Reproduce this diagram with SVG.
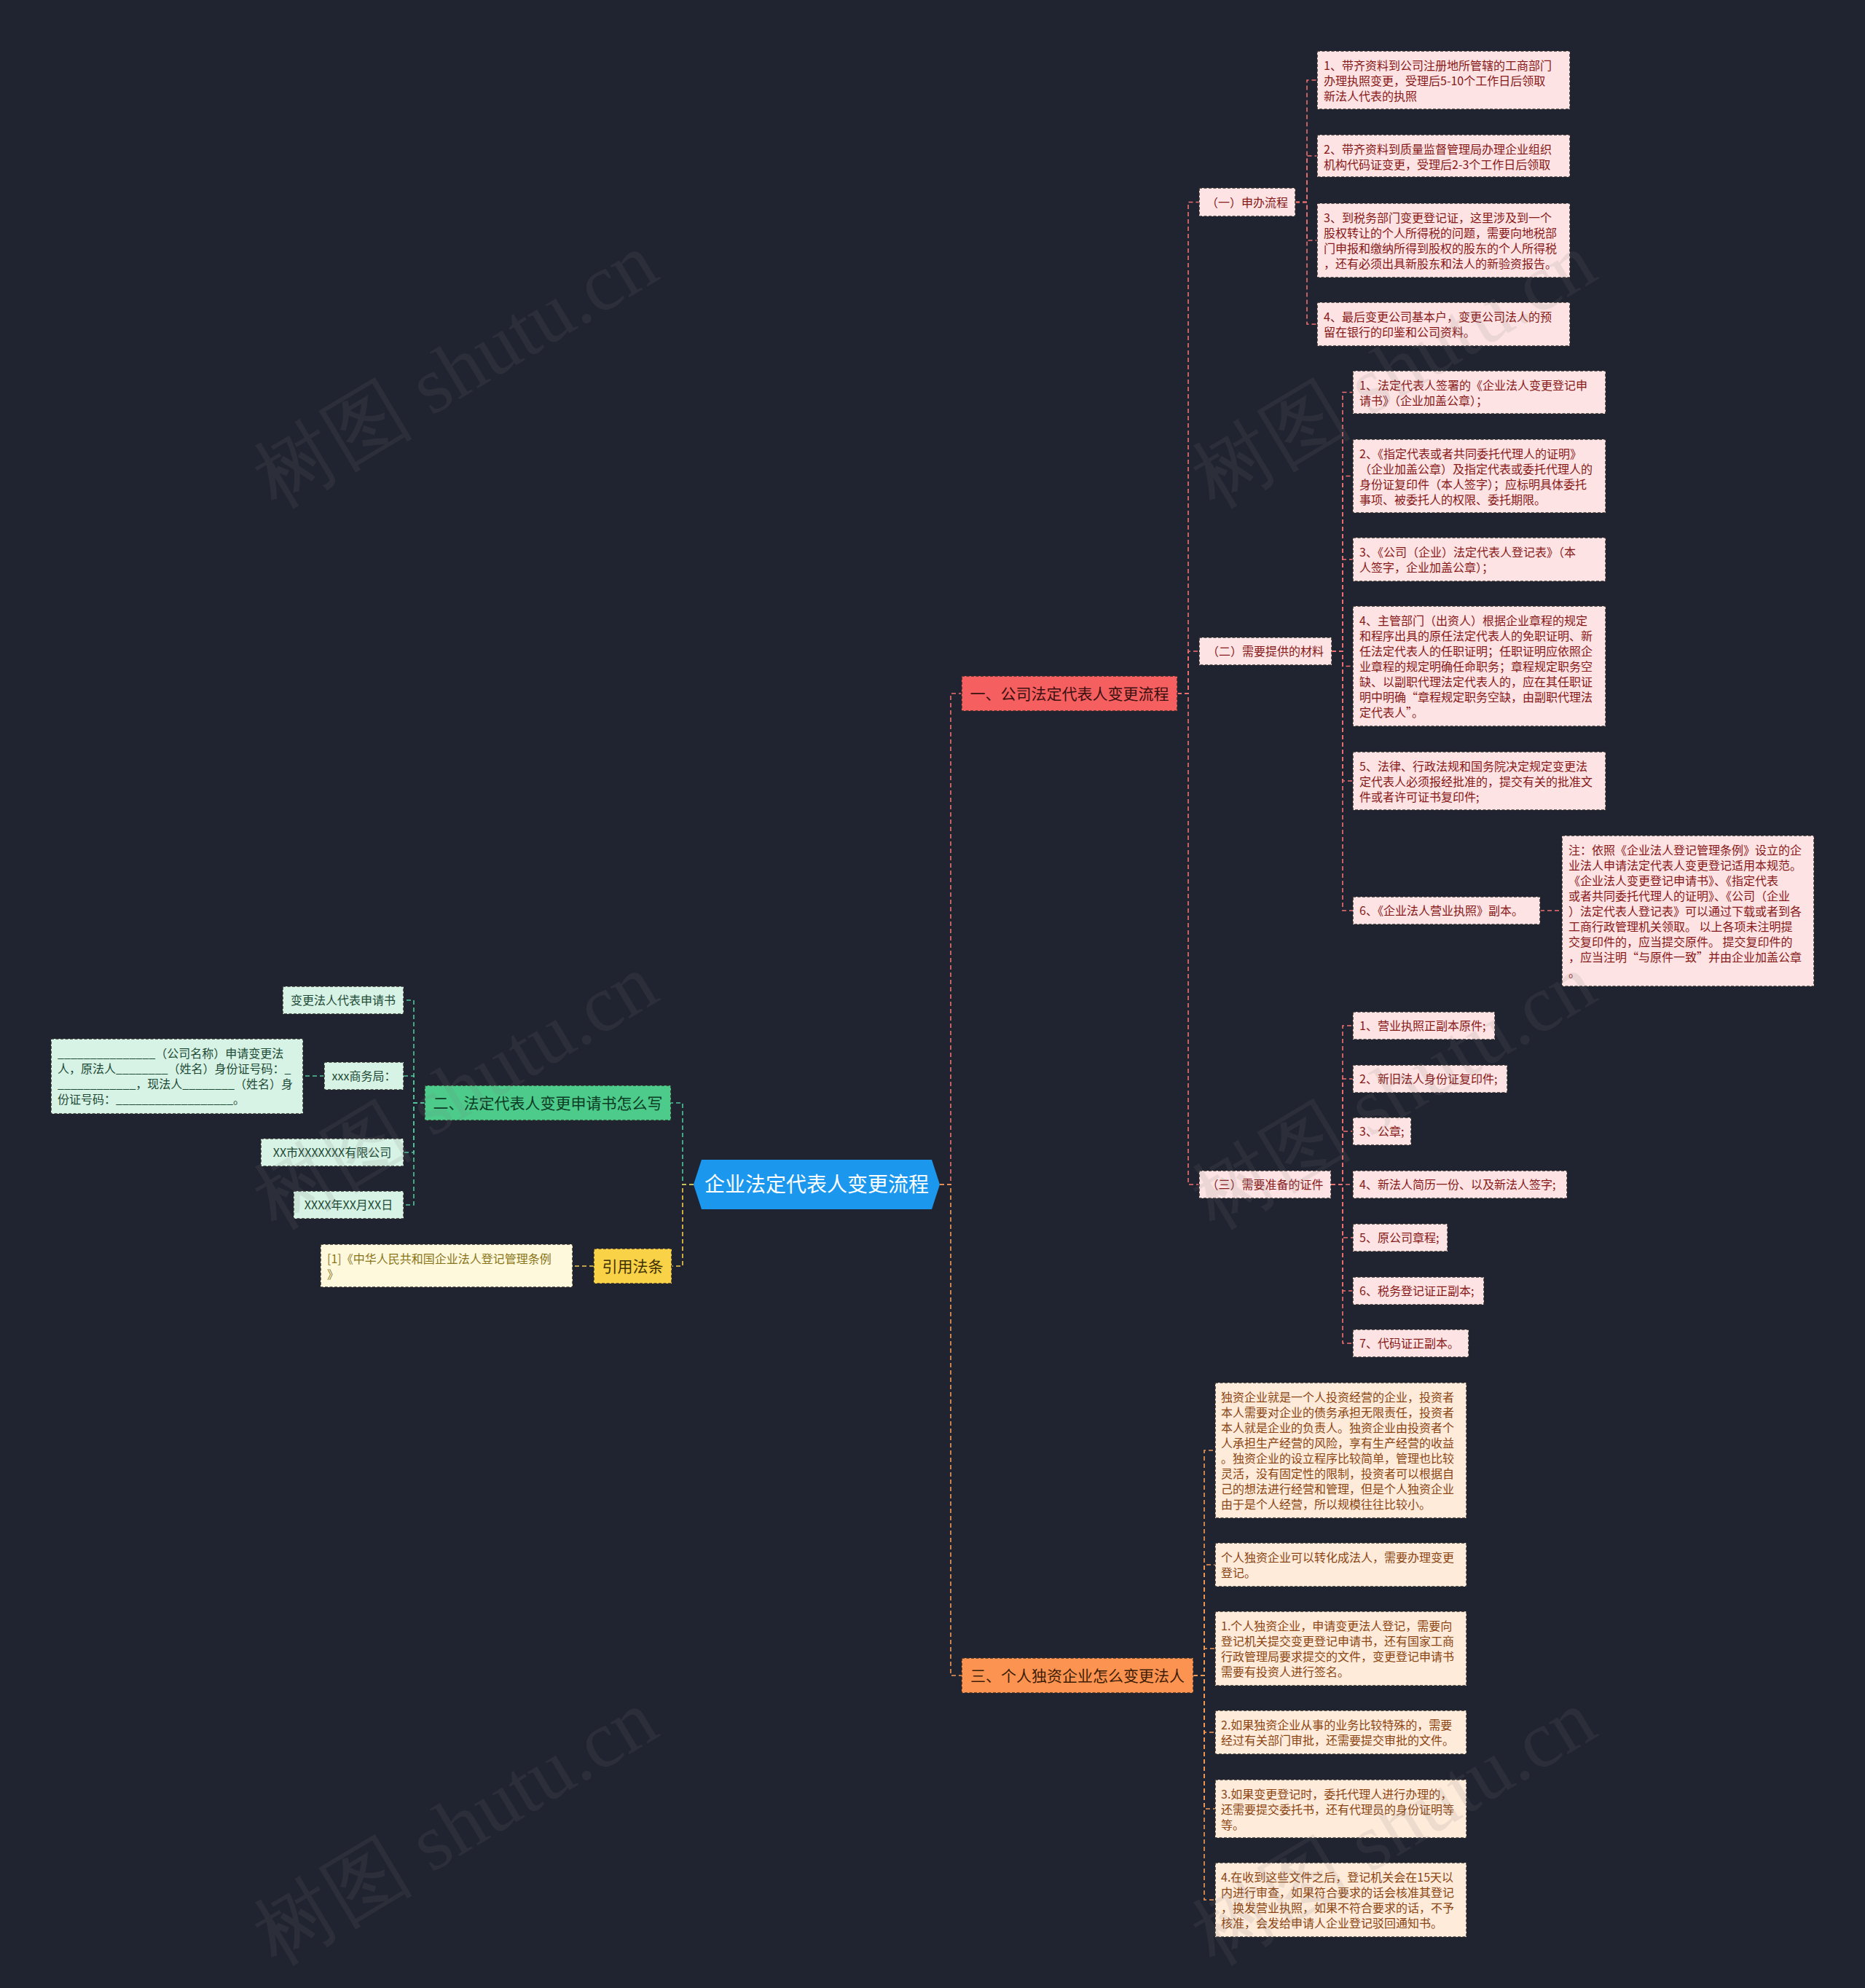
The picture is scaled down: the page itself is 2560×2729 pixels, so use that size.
<svg xmlns="http://www.w3.org/2000/svg" width="2560" height="2729" viewBox="0 0 2560 2729">
<style>
text{font-family:"Noto Sans CJK SC","Noto Sans",sans-serif;}
.b{stroke:#2b2b2b;stroke-width:1.5;stroke-dasharray:4 2.5;}
.r1{fill:#f65f5f;} .r2{fill:#fde3e3;} .rt{fill:#861818;font-size:16px;} .rt1{fill:#3b1010;font-size:21px;}
.g1{fill:#4ccb8b;} .g2{fill:#d7f3e5;} .gt{fill:#1d4a35;font-size:16px;} .gt1{fill:#0d3b24;font-size:21px;}
.y1{fill:#f9d247;} .y2{fill:#fef9dd;} .yt{fill:#8a7418;font-size:16px;} .yt1{fill:#3d3000;font-size:21px;}
.o1{fill:#fd9350;} .o2{fill:#feebda;} .ot{fill:#8b4513;font-size:16px;} .ot1{fill:#3d1d05;font-size:21px;}
.c{text-anchor:middle;}
.ln{fill:none;stroke-width:1.6;stroke-dasharray:6 4;}
.lr{stroke:#ee7070;} .lg{stroke:#4fc79a;} .ly{stroke:#f5cc4a;} .lo{stroke:#f59a56;}
.wm{font-family:"Liberation Serif",serif;font-size:110px;fill:#808080;opacity:0.13;text-anchor:middle;}
</style>
<rect width="2560" height="2729" fill="#202330"/>

<g id="connectors">
<path class="ln lr" d="M1290,1626H1305V952H1320"/>
<path class="ln lo" d="M1290,1626H1305V2300H1320"/>
<path class="ln lg" d="M952,1626H937V1514H921"/>
<path class="ln ly" d="M952,1626H937V1738H922"/>
<path class="ln lr" d="M1616,952H1631V277.5H1646"/>
<path class="ln lr" d="M1616,952H1631V894H1646"/>
<path class="ln lr" d="M1616,952H1631V1626H1646"/>
<path class="ln lr" d="M1778,277.5H1794V110H1808"/>
<path class="ln lr" d="M1778,277.5H1794V214H1808"/>
<path class="ln lr" d="M1778,277.5H1794V330H1808"/>
<path class="ln lr" d="M1778,277.5H1794V445H1808"/>
<path class="ln lr" d="M1828,894H1843V538.5H1857"/>
<path class="ln lr" d="M1828,894H1843V653.5H1857"/>
<path class="ln lr" d="M1828,894H1843V768H1857"/>
<path class="ln lr" d="M1828,894H1843V914.5H1857"/>
<path class="ln lr" d="M1828,894H1843V1072H1857"/>
<path class="ln lr" d="M1828,894H1843V1250H1857"/>
<path class="ln lr" d="M2114,1250H2144"/>
<path class="ln lr" d="M1827,1626H1843V1408H1857"/>
<path class="ln lr" d="M1827,1626H1843V1481H1857"/>
<path class="ln lr" d="M1827,1626H1843V1553H1857"/>
<path class="ln lr" d="M1827,1626H1857"/>
<path class="ln lr" d="M1827,1626H1843V1699H1857"/>
<path class="ln lr" d="M1827,1626H1843V1772H1857"/>
<path class="ln lr" d="M1827,1626H1843V1844H1857"/>
<path class="ln lg" d="M583,1514H568V1373H554"/>
<path class="ln lg" d="M583,1514H568V1477H554"/>
<path class="ln lg" d="M583,1514H568V1582H554"/>
<path class="ln lg" d="M583,1514H568V1654H554"/>
<path class="ln lg" d="M445,1477H416"/>
<path class="ln ly" d="M815,1738H786"/>
<path class="ln lo" d="M1638,2300H1653V1991H1668"/>
<path class="ln lo" d="M1638,2300H1653V2148H1668"/>
<path class="ln lo" d="M1638,2300H1653V2263H1668"/>
<path class="ln lo" d="M1638,2300H1653V2378H1668"/>
<path class="ln lo" d="M1638,2300H1653V2483H1668"/>
<path class="ln lo" d="M1638,2300H1653V2608H1668"/>
</g>

<g id="root">
<polygon points="963,1592 1279,1592 1290,1626 1279,1660 963,1660 952,1626" fill="#1b98ee"/>
<text x="1121" y="1636" class="c" style="font-size:28px;fill:#ffffff">企业法定代表人变更流程</text>
</g>

<g id="n1">
<rect class="r1 b" x="1320" y="928" width="296" height="48"/>
<text class="rt1 c" x="1468" y="959.5">一、公司法定代表人变更流程</text>
</g>
<g id="n2">
<rect class="g1 b" x="583" y="1490" width="338" height="48"/>
<text class="gt1 c" x="752" y="1521.5">二、法定代表人变更申请书怎么写</text>
</g>
<g id="n3">
<rect class="y1 b" x="815" y="1714" width="107" height="48"/>
<text class="yt1 c" x="868.5" y="1745.5">引用法条</text>
</g>
<g id="n4">
<rect class="o1 b" x="1320" y="2276" width="318" height="48"/>
<text class="ot1 c" x="1479" y="2307.5">三、个人独资企业怎么变更法人</text>
</g>

<g id="n1a">
<rect class="r2 b" x="1646" y="258" width="132" height="39"/>
<text class="rt c" x="1712" y="283.5">（一）申办流程</text>
</g>
<g id="n1b">
<rect class="r2 b" x="1646" y="875" width="182" height="38"/>
<text class="rt c" x="1737" y="900">（二）需要提供的材料</text>
</g>
<g id="n1c">
<rect class="r2 b" x="1646" y="1607" width="181" height="38"/>
<text class="rt c" x="1736.5" y="1632">（三）需要准备的证件</text>
</g>

<g id="a1">
<rect class="r2 b" x="1808" y="70" width="347" height="80"/>
<text class="rt" x="1817"><tspan x="1817" y="96">1、带齐资料到公司注册地所管辖的工商部门</tspan><tspan x="1817" y="117">办理执照变更，受理后5-10个工作日后领取</tspan><tspan x="1817" y="138">新法人代表的执照</tspan></text>
</g>
<g id="a2">
<rect class="r2 b" x="1808" y="185" width="347" height="58"/>
<text class="rt"><tspan x="1817" y="211">2、带齐资料到质量监督管理局办理企业组织</tspan><tspan x="1817" y="232">机构代码证变更，受理后2-3个工作日后领取</tspan></text>
</g>
<g id="a3">
<rect class="r2 b" x="1808" y="279" width="347" height="102"/>
<text class="rt"><tspan x="1817" y="305">3、到税务部门变更登记证，这里涉及到一个</tspan><tspan x="1817" y="326">股权转让的个人所得税的问题，需要向地税部</tspan><tspan x="1817" y="347">门申报和缴纳所得到股权的股东的个人所得税</tspan><tspan x="1817" y="368">，还有必须出具新股东和法人的新验资报告。</tspan></text>
</g>
<g id="a4">
<rect class="r2 b" x="1808" y="415" width="347" height="60"/>
<text class="rt"><tspan x="1817" y="441">4、最后变更公司基本户，变更公司法人的预</tspan><tspan x="1817" y="462">留在银行的印鉴和公司资料。</tspan></text>
</g>

<g id="b1">
<rect class="r2 b" x="1857" y="509" width="347" height="59"/>
<text class="rt"><tspan x="1866" y="535">1、法定代表人签署的《企业法人变更登记申</tspan><tspan x="1866" y="556">请书》（企业加盖公章）；</tspan></text>
</g>
<g id="b2">
<rect class="r2 b" x="1857" y="603" width="347" height="101"/>
<text class="rt"><tspan x="1866" y="629">2、《指定代表或者共同委托代理人的证明》</tspan><tspan x="1866" y="650">（企业加盖公章）及指定代表或委托代理人的</tspan><tspan x="1866" y="671">身份证复印件（本人签字）；应标明具体委托</tspan><tspan x="1866" y="692">事项、被委托人的权限、委托期限。</tspan></text>
</g>
<g id="b3">
<rect class="r2 b" x="1857" y="738" width="347" height="60"/>
<text class="rt"><tspan x="1866" y="764">3、《公司（企业）法定代表人登记表》（本</tspan><tspan x="1866" y="785">人签字，企业加盖公章）；</tspan></text>
</g>
<g id="b4">
<rect class="r2 b" x="1857" y="832" width="347" height="165"/>
<text class="rt"><tspan x="1866" y="858">4、主管部门（出资人）根据企业章程的规定</tspan><tspan x="1866" y="879">和程序出具的原任法定代表人的免职证明、新</tspan><tspan x="1866" y="900">任法定代表人的任职证明；任职证明应依照企</tspan><tspan x="1866" y="921">业章程的规定明确任命职务；章程规定职务空</tspan><tspan x="1866" y="942">缺、以副职代理法定代表人的，应在其任职证</tspan><tspan x="1866" y="963">明中明确“章程规定职务空缺，由副职代理法</tspan><tspan x="1866" y="984">定代表人”。</tspan></text>
</g>
<g id="b5">
<rect class="r2 b" x="1857" y="1032" width="347" height="80"/>
<text class="rt"><tspan x="1866" y="1058">5、法律、行政法规和国务院决定规定变更法</tspan><tspan x="1866" y="1079">定代表人必须报经批准的，提交有关的批准文</tspan><tspan x="1866" y="1100">件或者许可证书复印件;</tspan></text>
</g>
<g id="b6">
<rect class="r2 b" x="1857" y="1231" width="257" height="38"/>
<text class="rt" x="1866" y="1256">6、《企业法人营业执照》副本。</text>
</g>
<g id="b6n">
<rect class="r2 b" x="2144" y="1147" width="346" height="207"/>
<text class="rt"><tspan x="2153" y="1173">注：依照《企业法人登记管理条例》设立的企</tspan><tspan x="2153" y="1194">业法人申请法定代表人变更登记适用本规范。</tspan><tspan x="2153" y="1215">《企业法人变更登记申请书》、《指定代表</tspan><tspan x="2153" y="1236">或者共同委托代理人的证明》、《公司（企业</tspan><tspan x="2153" y="1257">）法定代表人登记表》可以通过下载或者到各</tspan><tspan x="2153" y="1278">工商行政管理机关领取。 以上各项未注明提</tspan><tspan x="2153" y="1299">交复印件的，应当提交原件。 提交复印件的</tspan><tspan x="2153" y="1320">，应当注明“与原件一致”并由企业加盖公章</tspan><tspan x="2153" y="1341">。</tspan></text>
</g>

<g id="c1"><rect class="r2 b" x="1857" y="1389" width="195" height="38"/><text class="rt" x="1866" y="1414">1、营业执照正副本原件;</text></g>
<g id="c2"><rect class="r2 b" x="1857" y="1462" width="212" height="38"/><text class="rt" x="1866" y="1487">2、新旧法人身份证复印件;</text></g>
<g id="c3"><rect class="r2 b" x="1857" y="1534" width="80" height="38"/><text class="rt" x="1866" y="1559">3、公章;</text></g>
<g id="c4"><rect class="r2 b" x="1857" y="1607" width="294" height="38"/><text class="rt" x="1866" y="1632">4、新法人简历一份、以及新法人签字;</text></g>
<g id="c5"><rect class="r2 b" x="1857" y="1680" width="130" height="38"/><text class="rt" x="1866" y="1705">5、原公司章程;</text></g>
<g id="c6"><rect class="r2 b" x="1857" y="1753" width="180" height="38"/><text class="rt" x="1866" y="1778">6、税务登记证正副本;</text></g>
<g id="c7"><rect class="r2 b" x="1857" y="1825" width="159" height="38"/><text class="rt" x="1866" y="1850">7、代码证正副本。</text></g>

<g id="g1"><rect class="g2 b" x="388" y="1354" width="166" height="38"/><text class="gt c" x="471" y="1379">变更法人代表申请书</text></g>
<g id="g2"><rect class="g2 b" x="445" y="1458" width="109" height="38"/><text class="gt c" x="499.5" y="1483">xxx商务局：</text></g>
<g id="g2a">
<rect class="g2 b" x="70" y="1426" width="346" height="103"/>
<text class="gt"><tspan x="79" y="1452">_______________（公司名称）申请变更法</tspan><tspan x="79" y="1473">人，原法人________（姓名）身份证号码：_</tspan><tspan x="79" y="1494">____________，现法人________（姓名）身</tspan><tspan x="79" y="1515">份证号码：__________________。</tspan></text>
</g>
<g id="g3"><rect class="g2 b" x="358" y="1563" width="196" height="38"/><text class="gt c" x="456" y="1588">XX市XXXXXXX有限公司</text></g>
<g id="g4"><rect class="g2 b" x="403" y="1635" width="151" height="38"/><text class="gt c" x="478.5" y="1660">XXXX年XX月XX日</text></g>

<g id="y1">
<rect class="y2 b" x="440" y="1708" width="346" height="59"/>
<text class="yt"><tspan x="449" y="1734">[1]《中华人民共和国企业法人登记管理条例</tspan><tspan x="449" y="1755">》</tspan></text>
</g>

<g id="p1">
<rect class="o2 b" x="1668" y="1898" width="345" height="186"/>
<text class="ot"><tspan x="1676" y="1924">独资企业就是一个人投资经营的企业，投资者</tspan><tspan x="1676" y="1945">本人需要对企业的债务承担无限责任，投资者</tspan><tspan x="1676" y="1966">本人就是企业的负责人。独资企业由投资者个</tspan><tspan x="1676" y="1987">人承担生产经营的风险，享有生产经营的收益</tspan><tspan x="1676" y="2008">。独资企业的设立程序比较简单，管理也比较</tspan><tspan x="1676" y="2029">灵活，没有固定性的限制，投资者可以根据自</tspan><tspan x="1676" y="2050">己的想法进行经营和管理，但是个人独资企业</tspan><tspan x="1676" y="2071">由于是个人经营，所以规模往往比较小。</tspan></text>
</g>
<g id="p2">
<rect class="o2 b" x="1668" y="2118" width="345" height="60"/>
<text class="ot"><tspan x="1676" y="2144">个人独资企业可以转化成法人，需要办理变更</tspan><tspan x="1676" y="2165">登记。</tspan></text>
</g>
<g id="p3">
<rect class="o2 b" x="1668" y="2212" width="345" height="102"/>
<text class="ot"><tspan x="1676" y="2238">1.个人独资企业，申请变更法人登记，需要向</tspan><tspan x="1676" y="2259">登记机关提交变更登记申请书，还有国家工商</tspan><tspan x="1676" y="2280">行政管理局要求提交的文件，变更登记申请书</tspan><tspan x="1676" y="2301">需要有投资人进行签名。</tspan></text>
</g>
<g id="p4">
<rect class="o2 b" x="1668" y="2348" width="345" height="60"/>
<text class="ot"><tspan x="1676" y="2374">2.如果独资企业从事的业务比较特殊的，需要</tspan><tspan x="1676" y="2395">经过有关部门审批，还需要提交审批的文件。</tspan></text>
</g>
<g id="p5">
<rect class="o2 b" x="1668" y="2443" width="345" height="80"/>
<text class="ot"><tspan x="1676" y="2469">3.如果变更登记时，委托代理人进行办理的，</tspan><tspan x="1676" y="2490">还需要提交委托书，还有代理员的身份证明等</tspan><tspan x="1676" y="2511">等。</tspan></text>
</g>
<g id="p6">
<rect class="o2 b" x="1668" y="2557" width="345" height="102"/>
<text class="ot"><tspan x="1676" y="2583">4.在收到这些文件之后，登记机关会在15天以</tspan><tspan x="1676" y="2604">内进行审查，如果符合要求的话会核准其登记</tspan><tspan x="1676" y="2625">，换发营业执照，如果不符合要求的话，不予</tspan><tspan x="1676" y="2646">核准，会发给申请人企业登记驳回通知书。</tspan></text>
</g>

<g id="watermark">
<text class="wm" transform="translate(644,540) rotate(-31)">树图 shutu.cn</text>
<text class="wm" transform="translate(644,1530) rotate(-31)">树图 shutu.cn</text>
<text class="wm" transform="translate(644,2540) rotate(-31)">树图 shutu.cn</text>
<text class="wm" transform="translate(1932,540) rotate(-31)">树图 shutu.cn</text>
<text class="wm" transform="translate(1932,1530) rotate(-31)">树图 shutu.cn</text>
<text class="wm" transform="translate(1932,2540) rotate(-31)">树图 shutu.cn</text>
</g>
</svg>
